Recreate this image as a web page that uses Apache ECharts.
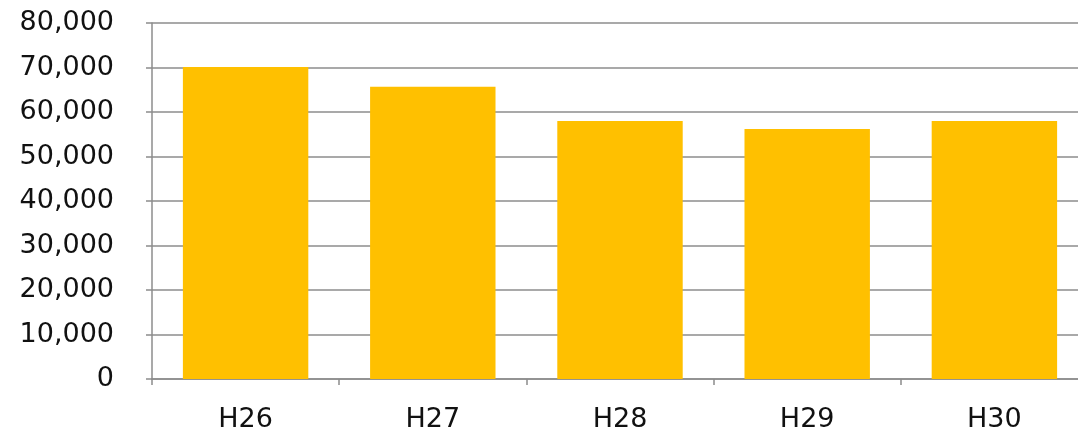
<!DOCTYPE html>
<html><head><meta charset="utf-8">
<script src="https://cdn.jsdelivr.net/npm/echarts@6/dist/echarts.min.js"></script>
<style>html,body{margin:0;padding:0;background:#fff}#c{width:1078px;height:430px}</style>
</head><body><div id="c"></div>
<script>
const categories = ['H26', 'H27', 'H28', 'H29', 'H30'];
const values = [70100, 65700, 58000, 56200, 58000];
const yTicks = [0, 10000, 20000, 30000, 40000, 50000, 60000, 70000, 80000];

const chart = echarts.init(document.getElementById('c'), null, {renderer: 'canvas'});
const font = '"DejaVu Sans", sans-serif';
chart.setOption({
  animation: false,
  grid: {left: 152, right: -10, top: 23, bottom: 51, containLabel: false, outerBoundsMode: 'none'},
  xAxis: {
    type: 'category', data: categories,
    axisLine: {lineStyle: {color: '#8c8c8c', width: 1.5}},
    axisTick: {show: true, alignWithLabel: false, length: 6, lineStyle: {color: '#8c8c8c', width: 1.5}},
    axisLabel: {color: '#111', fontFamily: font, fontSize: 27, margin: 27}
  },
  yAxis: {
    type: 'value', min: yTicks[0], max: yTicks[yTicks.length - 1], interval: 10000,
    axisLine: {show: true, lineStyle: {color: '#8c8c8c', width: 1.5}},
    axisTick: {show: true, length: 6, lineStyle: {color: '#8c8c8c', width: 1.5}},
    splitLine: {lineStyle: {color: '#8c8c8c', width: 1.5}},
    axisLabel: {color: '#111', fontFamily: font, fontSize: 27, margin: 38,
      formatter: v => v.toLocaleString('en-US')}
  },
  series: [{
    type: 'bar', data: values, barCategoryGap: '33%',
    itemStyle: {color: '#FFC000'}
  }]
});
</script></body></html>
